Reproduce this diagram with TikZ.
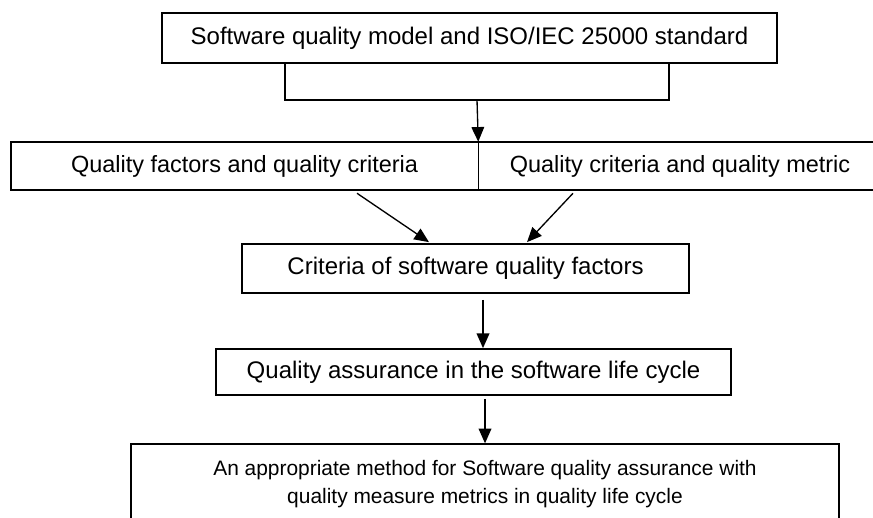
\documentclass[tikz,border=0pt]{standalone}
\usepackage{fontspec}
\setmainfont{Liberation Sans}
\usetikzlibrary{arrows.meta,calc}
\tikzset{
	qbox/.style={draw,line width=1.3pt,inner sep=0pt,font=\fontsize{18}{21}\selectfont,align=center},
	qcell/.style={inner sep=0pt,font=\fontsize{17.6}{20.3}\selectfont},
	arr/.style={line width=1pt,-{Triangle[length=11pt,width=9.5pt]}}
}
\begin{document}
\begin{tikzpicture}[x={(.75pt,0)},y={(0,-.75pt)}]
	\useasboundingbox (0,0) rectangle (873,517);
	\clip (0,0) rectangle (873,517);
	\node[qbox,minimum width=461.25pt,minimum height=37.5pt] (top) at (469.5,38)
		{Software quality model and ISO/IEC 25000 standard};
	\coordinate (bl) at (285,100);
	\coordinate (br) at (669,100);
	\coordinate (bm) at (477,100);
	\draw [line width=.9pt] (top.south -| bl) -- (bl) -- (br) -- (top.south -| br);
	% the two halves share one frame
	\node[qcell,minimum width=350.25pt,minimum height=36pt] (fa) at (244.5,166)
		{Quality factors and quality criteria};
	\node[qcell,minimum width=303pt,minimum height=36pt] (fb) at (680,166)
		{Quality criteria and quality metric};
	\draw [line width=1.4pt] (fa.north west) rectangle (fb.south east);
	\draw [line width=.9pt] (fa.north east) -- (fa.south east);
	\draw [arr] (bm) -- (fa.north east);
	\node[qbox,minimum width=335.25pt,minimum height=36.75pt] (crit) at (465.5,268.5)
		{Criteria of software quality factors};
	\draw [arr] ($(fa.south)+(112.5,3)$) -- ($(crit.north)+(-36.5,-1)$);
	\draw [arr] ($(fb.south)+(-107,3)$) -- ($(crit.north)+(61.5,-1)$);
	\node[qbox,minimum width=386.25pt,minimum height=34.5pt] (qa) at (473.5,372)
		{Quality assurance in the software life cycle};
	\draw [arr] ($(crit.south)+(17.5,6)$) -- ($(qa.north)+(9.5,0)$);
	\node[qbox,line width=1pt,minimum width=531pt,minimum height=60pt,
		font=\fontsize{15.7}{21}\selectfont] (method) at (485,484)
		{An appropriate method for Software quality assurance with\\
		quality measure metrics in quality life cycle};
	\draw [arr] ($(qa.south)+(11.5,3)$) -- (method.north);
\end{tikzpicture}
\end{document}
